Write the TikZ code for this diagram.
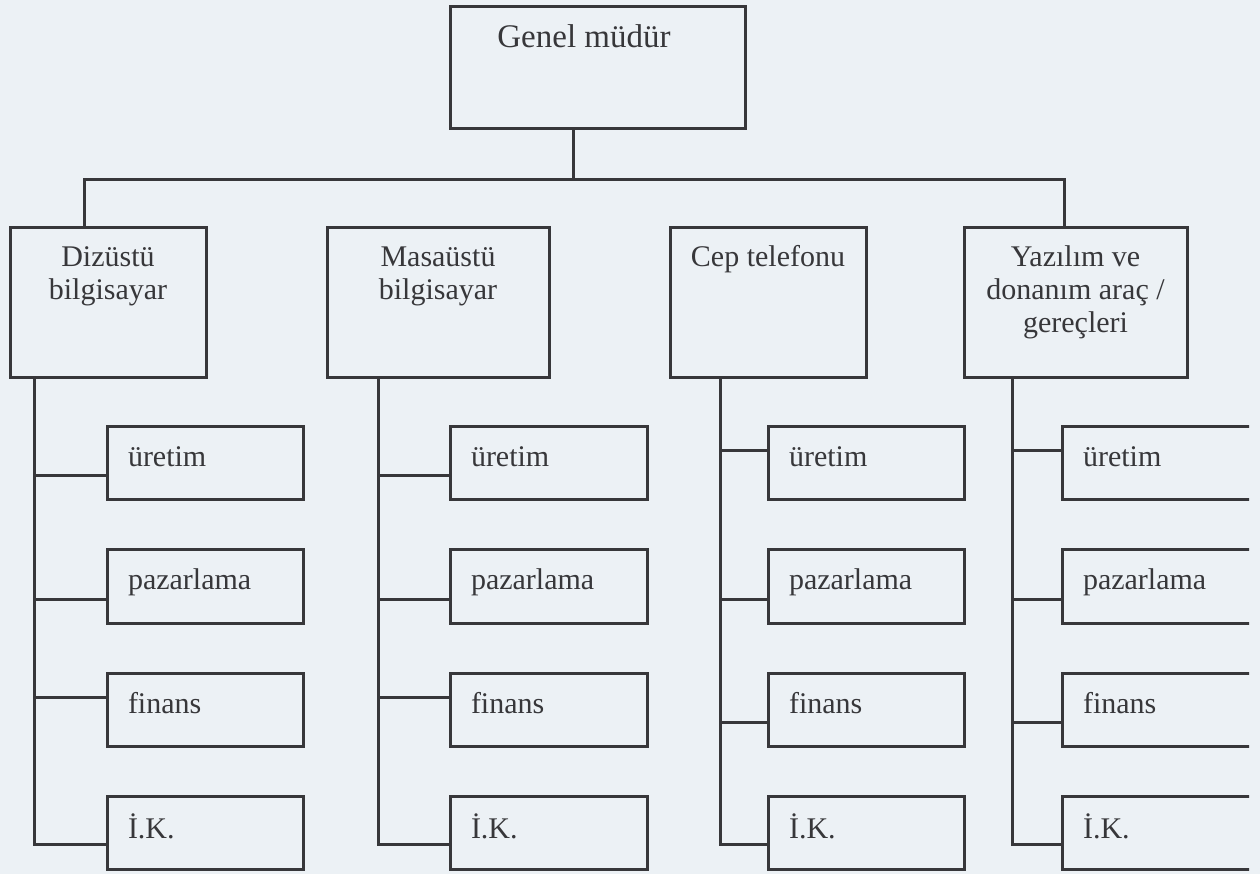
\documentclass[tikz,border=0pt]{standalone}
\usepackage{fontspec}
\setmainfont{Liberation Serif}
\usetikzlibrary{calc}
\definecolor{paper}{RGB}{236,241,245}
\definecolor{ink}{RGB}{55,55,58}
\definecolor{txt}{RGB}{55,55,58}
\tikzset{
  unit/.style={draw=ink, line width=3pt, inner sep=0pt, outer sep=0pt},
  lbl/.style={inner sep=0pt, outer sep=0pt, text=txt, font=\fontsize{30}{33}\selectfont},
  link/.style={draw=ink, line width=3pt, line cap=rect},
}
% box given by its corners in pixel coordinates (x to the right, y downward)
\newcommand\orgbox[5]{%
  \node[unit, minimum width={#4-#2}, minimum height={#5-#3}] (#1) at ({(#2+#4)/2},{(#3+#5)/2}) {};}
\begin{document}
\begin{tikzpicture}[x=1pt, y=-1pt]
\fill[paper] (0,0) rectangle (1260,874);
\useasboundingbox (0,0) rectangle (1260,874);

% top
\orgbox{gm}{450}{7}{745}{129}
\node[lbl, anchor=base, font=\fontsize{33}{36}\selectfont] (gm-t) at (584,48) {Genel müdür};

% product divisions
\orgbox{dz}{10}{228}{206}{377}
\orgbox{ms}{327}{228}{549}{377}
\orgbox{cp}{670}{228}{866}{377}
\orgbox{yz}{964}{228}{1187}{377}
\node[lbl, anchor=base] (dz-t) at (dz.north |- 0,267) {\begin{tabular}[t]{@{}c@{}}Dizüstü\\bilgisayar\end{tabular}};
\node[lbl, anchor=base] (ms-t) at (ms.north |- 0,267) {\begin{tabular}[t]{@{}c@{}}Masaüstü\\bilgisayar\end{tabular}};
\node[lbl, anchor=base] (cp-t) at (cp.north |- 0,267) {Cep telefonu};
\node[lbl, anchor=base] (yz-t) at (yz.north |- 0,267) {\begin{tabular}[t]{@{}c@{}}Yazılım ve\\donanım araç /\\gereçleri\end{tabular}};

% functional units under each division
\newcommand\units[3]{% prefix, left x, right x
  \orgbox{#1-ur}{#2}{426}{#3}{499}
  \orgbox{#1-pz}{#2}{549}{#3}{623}
  \orgbox{#1-fn}{#2}{673}{#3}{746}
  \orgbox{#1-ik}{#2}{796}{#3}{869}
  \node[lbl, anchor=base west] (#1-ur-t) at ([xshift=21pt, yshift=-40pt]#1-ur.north west) {üretim};
  \node[lbl, anchor=base west] (#1-pz-t) at ([xshift=21pt, yshift=-40pt]#1-pz.north west) {pazarlama};
  \node[lbl, anchor=base west] (#1-fn-t) at ([xshift=21pt, yshift=-40pt]#1-fn.north west) {finans};
  \node[lbl, anchor=base west] (#1-ik-t) at ([xshift=21pt, yshift=-42pt]#1-ik.north west) {İ.K.};
}
\units{dzu}{107}{303}
\units{msu}{450}{647}
\units{cpu}{768}{964}
\begin{scope}
  \clip (0,0) rectangle (1249,874);
  \units{yzu}{1062}{1300}
\end{scope}

% general manager to divisions
\coordinate (bus) at (573,180);
\draw[link] (gm.south -| bus) -- (bus);
\draw[link] (dz.north -| 84,0) |- (bus) -| (yz.north -| 1064,0);
\draw[link] (ms.north -| 426,0) -- (ms.north -| 426,0 |- bus);
\draw[link] (cp.north -| 768,0) -- (cp.north -| 768,0 |- bus);

% divisions to their units: trunk x, then branch heights
\newcommand\trunk[7]{% division, unit prefix, trunk x, four branch y
  \draw[link] (#1.south -| #3,0) -- (#3,#7) -- (#2-ik.west |- 0,#7);
  \draw[link] (#3,#4) -- (#2-ur.west |- 0,#4);
  \draw[link] (#3,#5) -- (#2-pz.west |- 0,#5);
  \draw[link] (#3,#6) -- (#2-fn.west |- 0,#6);
}
\trunk{dz}{dzu}{34}{475}{599}{697}{844}
\trunk{ms}{msu}{378}{475}{599}{697}{844}
\trunk{cp}{cpu}{720}{450}{599}{722}{844}
\trunk{yz}{yzu}{1012}{450}{599}{722}{844}
\end{tikzpicture}
\end{document}
